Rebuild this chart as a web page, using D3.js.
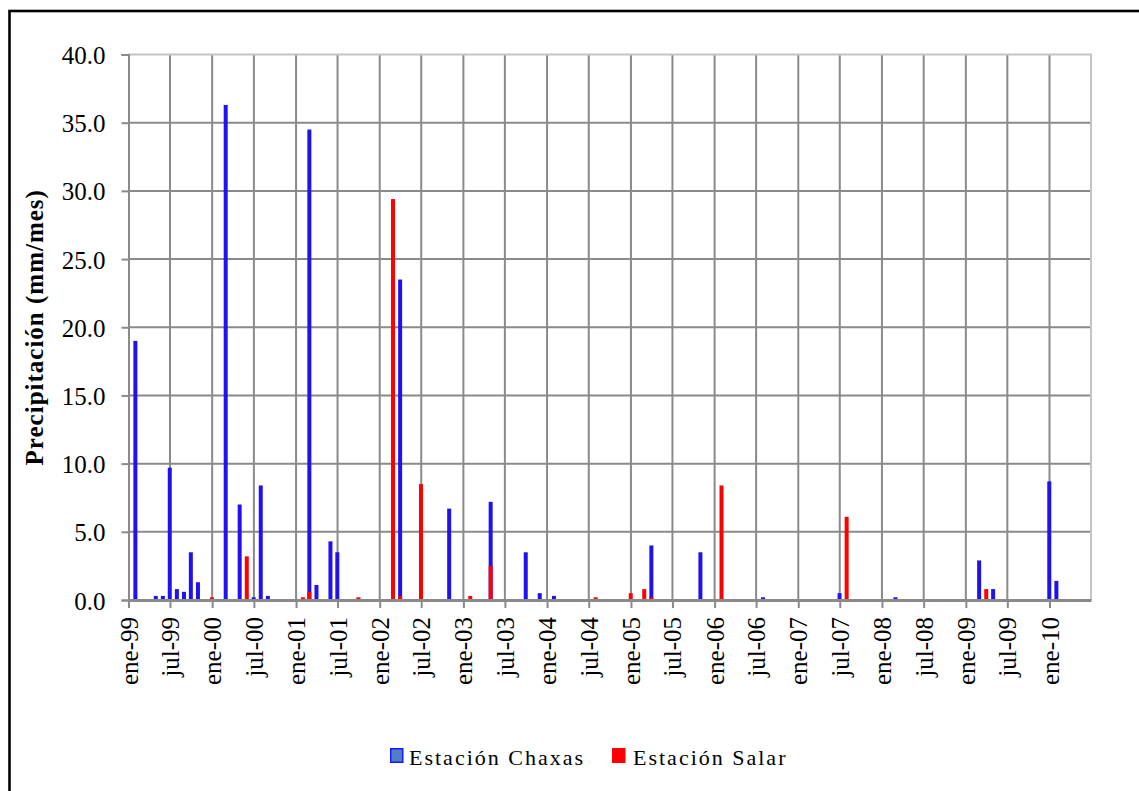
<!DOCTYPE html>
<html>
<head>
<meta charset="utf-8">
<script src="https://cdn.jsdelivr.net/npm/d3@7/dist/d3.min.js"></script>
<style>
  html, body { margin: 0; padding: 0; background: #fff; }
  svg { display: block; }
  text { font-family: "Liberation Serif", "Times New Roman", serif; fill: #000; }
</style>
</head>
<body>
<svg id="chart" width="1139" height="791"></svg>
<script>
// ---- Data (monthly precipitation, mm/mes) ----
const seriesNames = ["Estación Chaxas", "Estación Salar"];

const chaxasMonths = ["1999-01","1999-04","1999-05","1999-06","1999-07","1999-08","1999-09","1999-10",
  "2000-02","2000-04","2000-06","2000-07","2000-08",
  "2001-02","2001-03","2001-05","2001-06",
  "2002-03","2002-10","2003-04","2003-09","2003-11","2004-01",
  "2005-03","2005-10","2006-07","2007-06","2008-02","2009-02","2009-04","2009-12","2010-01"];
const chaxasValues = [19.0,0.3,0.3,9.7,0.8,0.6,3.5,1.3,
  36.3,7.0,0.2,8.4,0.3,
  34.5,1.1,4.3,3.5,
  23.5,6.7,7.2,3.5,0.5,0.3,
  4.0,3.5,0.2,0.5,0.2,2.9,0.8,8.7,1.4];

const salarMonths = ["1999-12","2000-05","2001-01","2001-02","2001-09","2002-02","2002-03","2002-06",
  "2003-01","2003-04","2004-07","2004-12","2005-02","2005-03","2006-01","2007-07","2009-03"];
const salarValues = [0.2,3.2,0.2,0.6,0.2,29.4,0.3,8.5,
  0.3,2.5,0.2,0.5,0.8,0.2,8.4,6.1,0.8];

const axisStart = "1999-01";
const axisEnd = "2010-07";
const yTicks = [0, 5, 10, 15, 20, 25, 30, 35, 40];
const shortMonthsEs = ["ene","feb","mar","abr","may","jun","jul","ago","sep","oct","nov","dic"];

// ---- Setup ----
const svg = d3.select("#chart");
const W = 1139, H = 791;
const plot = { left: 128.5, right: 1091, top: 54.5, bottom: 600 };

const parseM = d3.utcParse("%Y-%m");
// Excel stored each month at its last day
const endOfMonth = d => d3.utcDay.offset(d3.utcMonth.offset(parseM(d), 1), -1);

const locale = d3.timeFormatLocale({
  dateTime: "%x %X", date: "%d/%m/%Y", time: "%H:%M:%S", periods: ["AM","PM"],
  days: ["domingo","lunes","martes","miércoles","jueves","viernes","sábado"],
  shortDays: ["dom","lun","mar","mié","jue","vie","sáb"],
  months: ["enero","febrero","marzo","abril","mayo","junio","julio","agosto","septiembre","octubre","noviembre","diciembre"],
  shortMonths: shortMonthsEs
});
const fmtX = locale.utcFormat("%b-%y");

const x = d3.scaleUtc()
  .domain([parseM(axisStart), parseM(axisEnd)])
  .range([plot.left, plot.right]);
const y = d3.scaleLinear().domain([0, 40]).range([plot.bottom, plot.top]);

const xTickDates = d3.utcMonth.every(6).range(parseM(axisStart), parseM(axisEnd));

const chaxas = chaxasMonths.map((m, i) => ({ date: endOfMonth(m), value: chaxasValues[i] }));
const salar = salarMonths.map((m, i) => ({ date: endOfMonth(m), value: salarValues[i] }));

// outer chart border
svg.append("rect").attr("x", 9.5).attr("y", 11).attr("width", 1140).attr("height", 800)
  .attr("fill", "#fff").attr("stroke", "#000").attr("stroke-width", 2.6);

// gridlines
const grid = svg.append("g");
grid.selectAll("line.h").data(yTicks.filter(v => v > 0 && v < 40)).join("line")
  .attr("x1", plot.left).attr("x2", plot.right)
  .attr("y1", d => y(d)).attr("y2", d => y(d))
  .attr("stroke", "#8a8a8a").attr("stroke-width", 2);
grid.selectAll("line.v").data(xTickDates.slice(1)).join("line")
  .attr("x1", d => x(d)).attr("x2", d => x(d))
  .attr("y1", plot.top).attr("y2", plot.bottom)
  .attr("stroke", "#8a8a8a").attr("stroke-width", 2);

// plot area border (top / right light)
svg.append("line").attr("x1", plot.left).attr("x2", plot.right + 1).attr("y1", plot.top).attr("y2", plot.top)
  .attr("stroke", "#c4c4c4").attr("stroke-width", 2.2);
svg.append("line").attr("x1", plot.right).attr("x2", plot.right).attr("y1", plot.top).attr("y2", plot.bottom)
  .attr("stroke", "#c4c4c4").attr("stroke-width", 2);

// bars
const barW = 4;
const colors = ["#2012ee", "#ff0000"];
svg.append("g").selectAll("rect").data(chaxas).join("rect")
  .attr("x", d => x(d.date) - barW / 2).attr("width", barW)
  .attr("y", d => y(d.value)).attr("height", d => y(0) - y(d.value))
  .attr("fill", colors[0]);
svg.append("g").selectAll("rect").data(salar).join("rect")
  .attr("x", d => x(d.date) - barW / 2).attr("width", barW)
  .attr("y", d => y(d.value)).attr("height", d => y(0) - y(d.value))
  .attr("fill", colors[1]);

// y axis
const yAxis = svg.append("g").attr("transform", `translate(${plot.left},0)`)
  .call(d3.axisLeft(y).tickValues(yTicks).tickFormat(d3.format(".1f")).tickSize(7).tickPadding(16));
yAxis.select(".domain").attr("stroke", "#8a8a8a").attr("stroke-width", 2);
yAxis.selectAll(".tick line").attr("stroke", "#8a8a8a").attr("stroke-width", 2);
yAxis.selectAll(".tick text").attr("font-size", 25).attr("dy", "0.36em")
  .style("font-family", '"Liberation Serif", serif');

// x axis
const xAxis = svg.append("g").attr("transform", `translate(0,${plot.bottom})`)
  .call(d3.axisBottom(x).tickValues(xTickDates).tickFormat(fmtX).tickSize(8).tickSizeOuter(0));
xAxis.select(".domain").attr("stroke", "#8a8a8a").attr("stroke-width", 3);
xAxis.selectAll(".tick line").attr("stroke", "#8a8a8a").attr("stroke-width", 2);
xAxis.selectAll(".tick text")
  .attr("font-size", 25)
  .attr("text-anchor", "end")
  .attr("dominant-baseline", "central")
  .attr("transform", "translate(0,17) rotate(-90)")
  .attr("x", 0).attr("y", 0).attr("dy", null)
  .style("font-family", '"Liberation Serif", serif');

// y title
svg.append("text")
  .attr("transform", `translate(43,${(plot.top + plot.bottom) / 2}) rotate(-90)`)
  .attr("text-anchor", "middle")
  .attr("font-size", 25).attr("font-weight", "bold").attr("letter-spacing", 1)
  .text("Precipitación (mm/mes)");

// legend
const legend = svg.append("g");
const legendItems = [
  { name: seriesNames[0], mx: 390, tx: 409, fill: "#4f7fc4", stroke: "#1a1aff" },
  { name: seriesNames[1], mx: 612, tx: 633, fill: "#ff0000", stroke: "#ff0000" }
];
legendItems.forEach(it => {
  legend.append("rect").attr("x", it.mx + 0.75).attr("y", 748.75).attr("width", 12).attr("height", 13.5)
    .attr("fill", it.fill).attr("stroke", it.stroke).attr("stroke-width", 1.5);
  legend.append("text").attr("x", it.tx).attr("y", 765)
    .attr("font-size", 22).attr("letter-spacing", 2).text(it.name);
});
</script>
</body>
</html>
